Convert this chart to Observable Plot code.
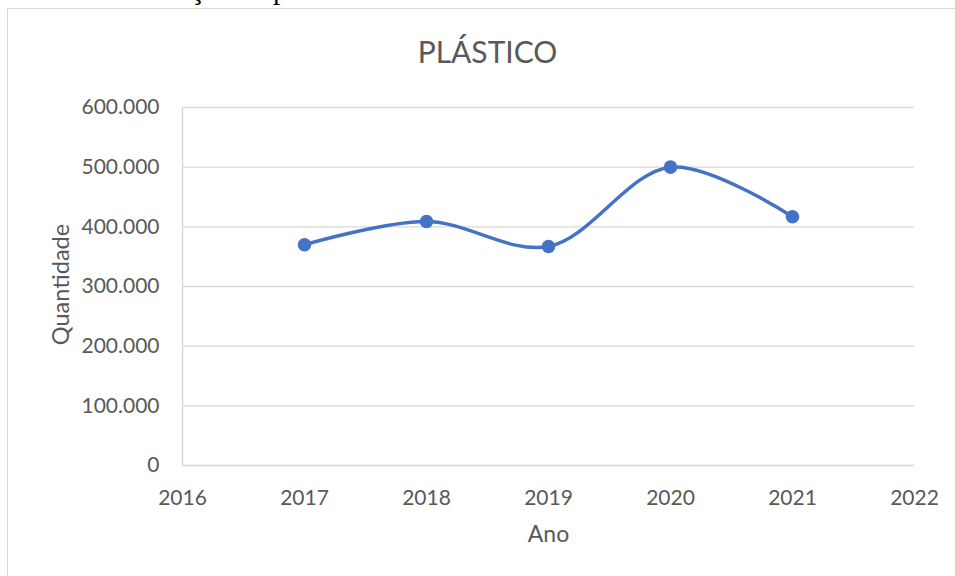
<!DOCTYPE html>
<html>
<head>
<meta charset="utf-8">
<script src="https://cdn.jsdelivr.net/npm/d3@7"></script>
<script src="https://cdn.jsdelivr.net/npm/@observablehq/plot@0.6"></script>
<style>
  html, body { margin: 0; padding: 0; background: #fff; overflow: hidden; }
  #wrap { position: relative; width: 955px; height: 576px; overflow: hidden; }
  #caption { position: absolute; left: 0; top: -25px; font-family: "Liberation Serif", serif; font-size: 29px; line-height: 29px; color: #000; white-space: nowrap; }
  #frame { position: absolute; left: 7px; top: 8px; width: 1000px; height: 1000px; border: 1px solid #d9d9d9; box-sizing: border-box; }
  #chart { position: absolute; left: 0; top: 0; }
</style>
</head>
<body>
<div id="wrap">
  <div id="caption">Gráfico 5 - Geração de plástico.</div>
  <div id="frame"></div>
  <div id="chart"></div>
</div>
<script>
const years = [2017, 2018, 2019, 2020, 2021];
const quantities = [370000, 409000, 367000, 500000, 417000];
const xTicks = [2016, 2017, 2018, 2019, 2020, 2021, 2022];
const yTicks = [0, 100000, 200000, 300000, 400000, 500000, 600000];
const title = "PLÁSTICO";
const xLabel = "Ano";
const yLabel = "Quantidade";

const data = years.map((y, i) => ({year: y, value: quantities[i]}));
const ptBR = d3.formatLocale({decimal: ",", thousands: ".", grouping: [3], currency: ["R$", ""]});
const fmt = ptBR.format(",d");
const grey = "#595959";
const font = "Lato, 'Open Sans', sans-serif";

const chart = Plot.plot({
  width: 955,
  height: 576,
  marginLeft: 182,
  marginRight: 41,
  marginTop: 107,
  marginBottom: 111,
  style: {fontFamily: font, fontSize: "21px", color: grey, background: "transparent", overflow: "visible"},
  x: {domain: [2016, 2022], ticks: xTicks, tickFormat: d => String(d), tickSize: 0, tickPadding: 25, label: null},
  y: {domain: [0, 600000], ticks: yTicks, tickFormat: fmt, tickSize: 0, tickPadding: 23, label: null},
  marks: [
    Plot.gridY(yTicks, {stroke: "#d9d9d9", strokeOpacity: 1, strokeWidth: 1.3}),
    Plot.ruleX([2016], {stroke: "#d9d9d9", strokeWidth: 1.5}),
    Plot.ruleY([0], {stroke: "#d9d9d9", strokeWidth: 1.5}),
    Plot.axisX({ticks: xTicks, tickFormat: d => String(d), tickSize: 0, tickPadding: 25, fill: grey, label: null, fontSize: 21}),
    Plot.axisY({ticks: yTicks, tickFormat: fmt, tickSize: 0, tickPadding: 23, fill: grey, label: null, fontSize: 21}),
    Plot.line(data, {x: "year", y: "value", stroke: "#4472C4", strokeWidth: 3.5, curve: "catmull-rom"}),
    Plot.dot(data, {x: "year", y: "value", fill: "#4472C4", r: 6.8}),
    Plot.text([title], {frameAnchor: "top", dx: -61, dy: -66, fill: grey, fontSize: 30, fontFamily: font}),
    Plot.text([xLabel], {frameAnchor: "bottom", dy: 76, fill: grey, fontSize: 23, fontFamily: font}),
    Plot.text([yLabel], {frameAnchor: "left", dx: -121, dy: -2, rotate: -90, textAnchor: "middle", fill: grey, fontSize: 23.5, fontFamily: font})
  ]
});
document.getElementById("chart").appendChild(chart);
</script>
</body>
</html>
